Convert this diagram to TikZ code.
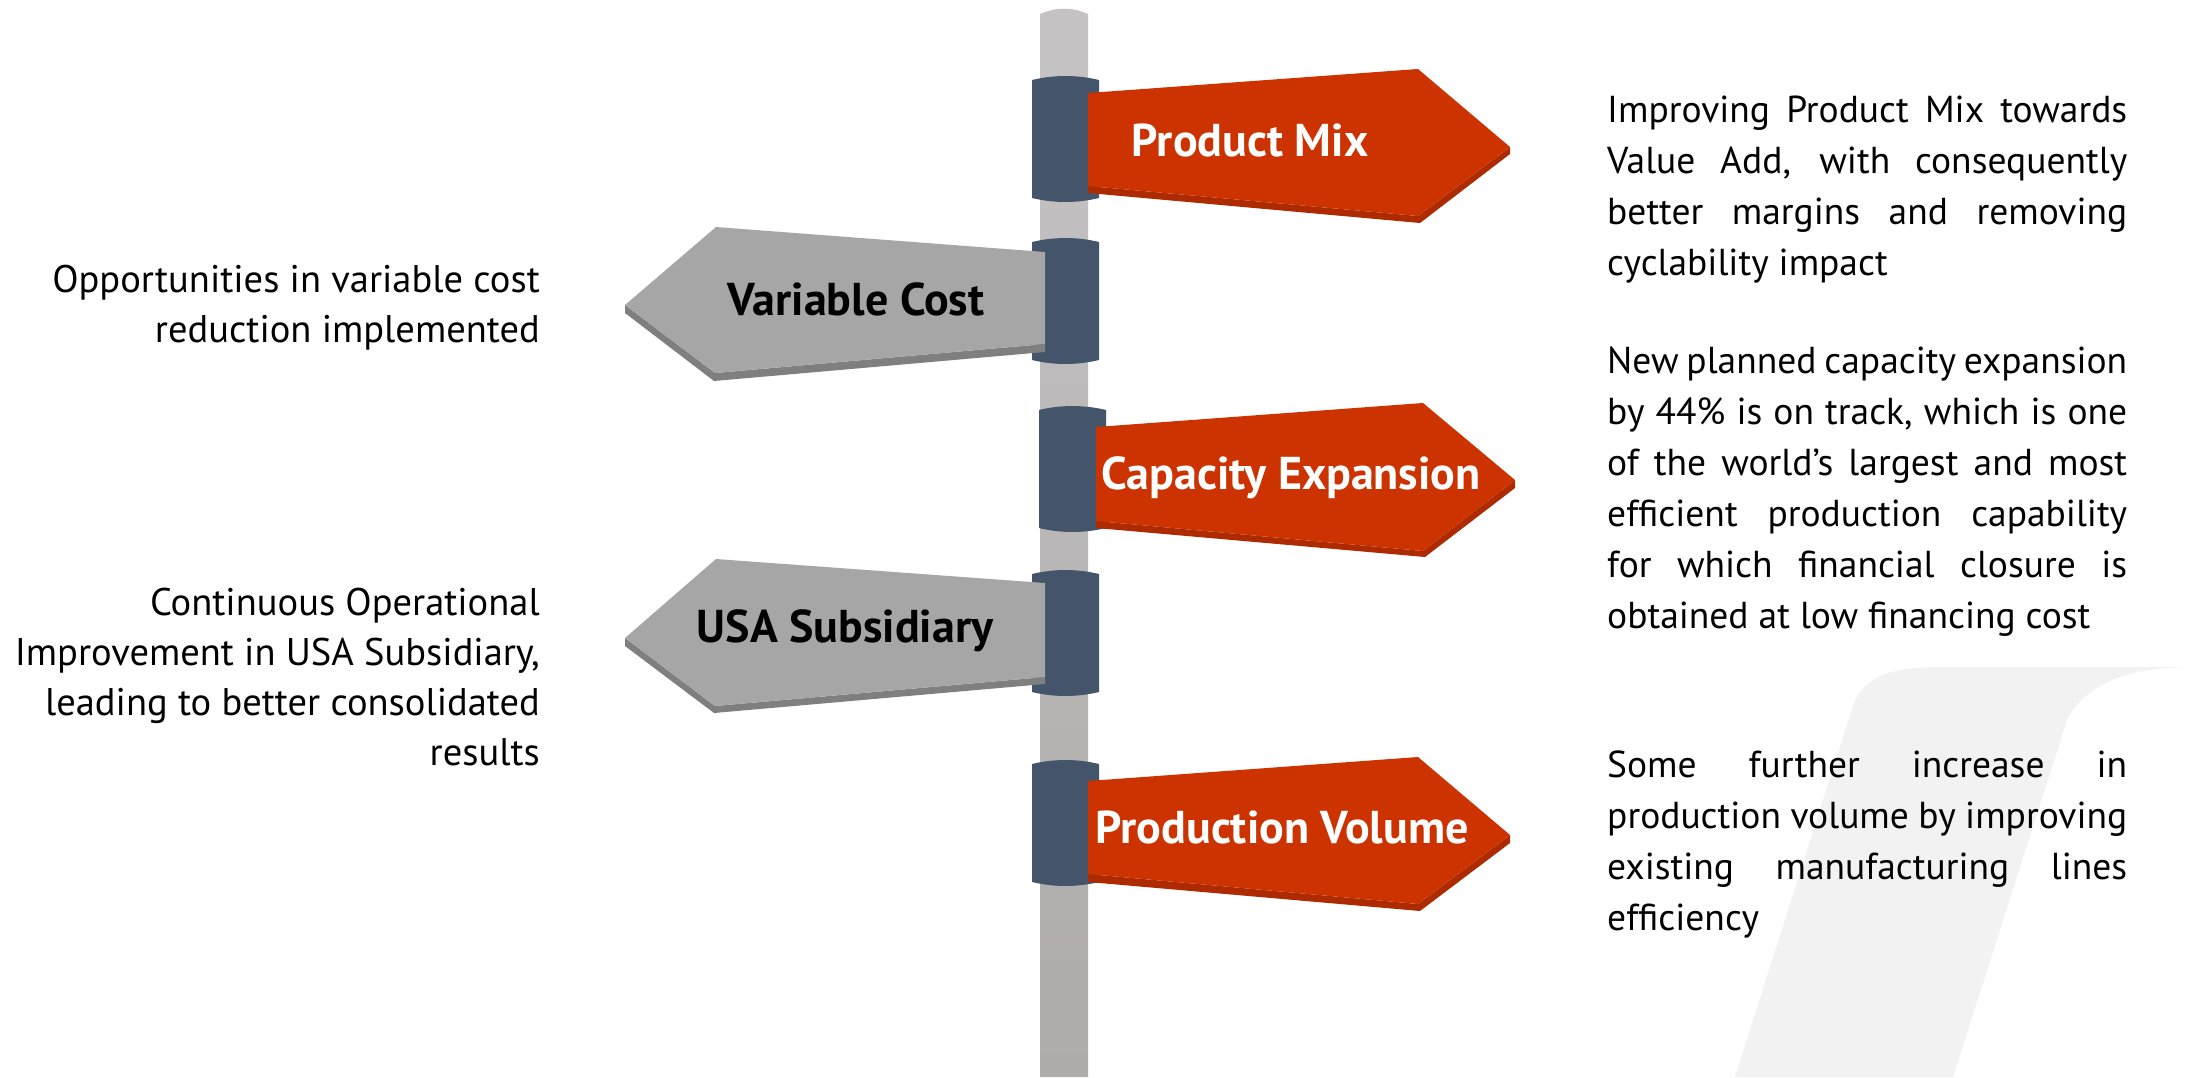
\documentclass[tikz,border=0pt]{standalone}
\usepackage{fontspec}
\setmainfont{PT Sans}
\usepackage{tikz}
\definecolor{signred}{HTML}{CC3300}
\definecolor{signreddark}{HTML}{AE2A00}
\definecolor{signgrey}{HTML}{A6A6A6}
\definecolor{signgreydark}{HTML}{7F7F7F}
\definecolor{collarblue}{HTML}{44546A}
\definecolor{poletop}{HTML}{C5C3C4}
\definecolor{polebottom}{HTML}{AEABAA}
\definecolor{watermark}{HTML}{F2F2F2}
\newcommand{\fillline}[1]{{\spaceskip=0pt\xspaceskip=0pt\makebox[520pt][s]{#1}}}

\begin{document}
\begin{tikzpicture}[x=1pt,y=-1pt,
	signtext/.style={anchor=base,inner sep=0pt,font=\fontsize{46}{50}\selectfont\bfseries},
	desc/.style={inner sep=0pt,font=\fontsize{38.5}{50}\selectfont},
	leftdesc/.style={desc,align=right,anchor=north east},
	rightdesc/.style={desc,font=\fontsize{37.5}{51}\selectfont,text width=520pt,align=justify,anchor=north west}]

	\useasboundingbox (0,0) rectangle (2187,1077);
	\fill[white] (0,0) rectangle (2187,1077);

	\fill[watermark] (1735,1077) -- (1854,703) .. controls (1866,676) and (1890,667) .. (1944,667) -- (2187,667) .. controls (2125,668) and (2085,685) .. (2067,720) -- (1953,1077) -- cycle;

	\shade[top color=poletop,bottom color=polebottom] (1040,1077) -- (1040,14) .. controls (1056,7) and (1072,7) .. (1088,14) -- (1088,1077) -- cycle;

	\foreach \cx/\cy in {1032/76,1032/238,1039/406,1032/570,1032/760}
		\fill[collarblue] (\cx,\cy+4) .. controls (\cx+22,\cy-1.3) and (\cx+45,\cy-1.3) .. (\cx+67,\cy+4) -- (\cx+67,\cy+122) .. controls (\cx+45,\cy+127.3) and (\cx+22,\cy+127.3) .. (\cx,\cy+122) -- cycle;

	\fill[signreddark] (1088,186) -- (1418,216) -- (1510,147) -- (1510,154) -- (1420,223) -- (1088,193) -- cycle;
	\fill[signred] (1088,93) -- (1418,69) -- (1510,147) -- (1418,216) -- (1088,186) -- cycle;

	\fill[signgreydark] (1045,344) -- (715,373) -- (625,305) -- (625,313) -- (714,381) -- (1045,352) -- cycle;
	\fill[signgrey] (1045,252) -- (716,227) -- (625,305) -- (715,373) -- (1045,344) -- cycle;

	\fill[signreddark] (1096,521) -- (1423,551) -- (1515,480) -- (1515,488) -- (1425,557) -- (1096,528) -- cycle;
	\fill[signred] (1096,427) -- (1423,403) -- (1515,480) -- (1423,551) -- (1096,521) -- cycle;

	\fill[signgreydark] (1045,677) -- (715,706) -- (625,638) -- (625,646) -- (714,713) -- (1045,684) -- cycle;
	\fill[signgrey] (1045,583) -- (716,559) -- (625,638) -- (715,706) -- (1045,677) -- cycle;

	\fill[signreddark] (1088,874) -- (1418,904) -- (1510,835) -- (1510,843) -- (1420,911) -- (1088,882) -- cycle;
	\fill[signred] (1088,781) -- (1418,757) -- (1510,835) -- (1418,904) -- (1088,874) -- cycle;

	\node[signtext,white] (pmlabel) at (1250,156) {Product Mix};
	\node[signtext] (vclabel) at (856,315) {Variable Cost};
	\node[signtext,white] (celabel) at (1291,489) {Capacity Expansion};
	\node[signtext] (usalabel) at (845,642) {USA Subsidiary};
	\node[signtext,white] (pvlabel) at (1282,843) {Production Volume};

	\node[leftdesc] (vctext) at (540,265) {Opportunities in variable cost\\reduction implemented};
	\node[leftdesc] (usatext) at (540,588) {Continuous Operational\\Improvement in USA Subsidiary,\\leading to better consolidated\\results};

	\node[rightdesc] (pmtext) at (1607,96) {\fillline{Improving Product Mix towards}\\\fillline{Value Add, with consequently}\\\fillline{better margins and removing}\\cyclability impact};
	\node[rightdesc] (cetext) at (1607,347) {\fillline{New planned capacity expansion}\\\fillline{by 44\% is on track, which is one}\\\fillline{of the world’s largest and most}\\\fillline{efficient production capability}\\\fillline{for which financial closure is}\\obtained at low financing cost};
	\node[rightdesc] (pvtext) at (1607,751) {\fillline{Some further increase in}\\\fillline{production volume by improving}\\\fillline{existing manufacturing lines}\\efficiency};
\end{tikzpicture}
\end{document}
